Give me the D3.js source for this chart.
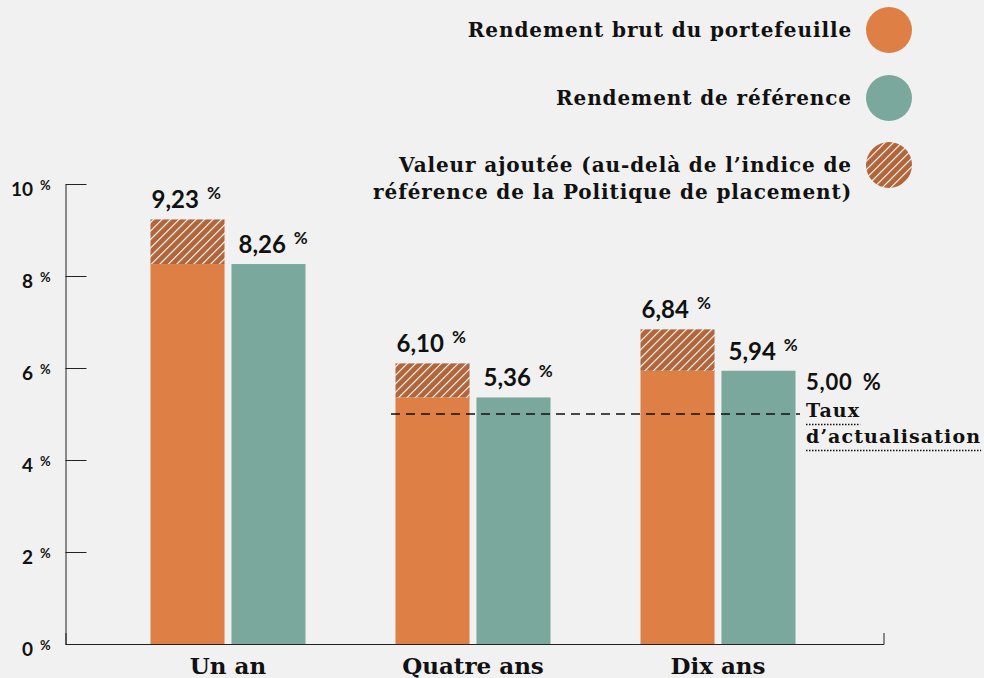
<!doctype html>
<html lang="fr">
<head>
<meta charset="utf-8">
<script src="https://d3js.org/d3.v7.min.js"></script>
<style>
  body { margin: 0; background: #f1f1f1; }
  svg { display: block; }
  .num { font-family: Lato, "Open Sans", sans-serif; font-weight: 700; fill: #111; }
  .slab { font-family: "DejaVu Serif", serif; font-weight: 700; fill: #111; }
</style>
</head>
<body>
<svg id="svg" width="984" height="678"></svg>
<script>
const categories = ["Un an", "Quatre ans", "Dix ans"];
const portfolio = [9.23, 6.10, 6.84];   // rendement brut du portefeuille
const benchmark = [8.26, 5.36, 5.94];   // rendement de référence
const discountRate = 5.00;
const yTicks = [0, 2, 4, 6, 8, 10];
const legendItems = [
  ["Rendement brut du portefeuille"],
  ["Rendement de référence"],
  ["Valeur ajoutée (au-delà de l’indice de", "référence de la Politique de placement)"]
];

const orange = "#de7f45", teal = "#7aa89c", hatch = "#b0653a";
const fmt = v => v.toFixed(2).replace(".", ",");

const svg = d3.select("#svg");

// hatch pattern
const defs = svg.append("defs");
const pat = defs.append("pattern")
  .attr("id", "hatch")
  .attr("patternUnits", "userSpaceOnUse")
  .attr("width", 6).attr("height", 6)
  .attr("patternTransform", "rotate(45)");
pat.append("rect").attr("width", 6).attr("height", 6).attr("fill", hatch);
pat.append("line").attr("x1", 0).attr("y1", 0).attr("x2", 0).attr("y2", 6)
  .attr("stroke", "#fff").attr("stroke-width", 2.2);

const y = d3.scaleLinear().domain([0, 10]).range([644, 184]);
const x0 = d3.scaleBand().domain(categories).range([105.5, 840.5]);
const x1 = d3.scaleBand().domain(["p", "b"]).range([-77.5, 77.5]).paddingInner(0.086);
const frame = d3.scaleLinear().domain([0, 1]).range([65.5, 883.5]);
const cx = c => x0(c) + x0.bandwidth() / 2;

// axes
svg.append("g")
  .attr("transform", "translate(65.5,0)")
  .call(d3.axisLeft(y).tickValues(yTicks).tickSizeInner(-21).tickSizeOuter(0).tickFormat(""))
  .call(g => g.selectAll("path, line").attr("stroke", "#222"));

svg.append("g")
  .attr("transform", `translate(0,${y(0)})`)
  .call(d3.axisBottom(frame).tickValues([]).tickSizeOuter(-11))
  .call(g => g.select("path").attr("stroke", "#222"));

const yl = svg.append("g");
yTicks.forEach(t => {
  yl.append("text").attr("class", "num")
    .attr("x", 33).attr("y", y(t) + 12).attr("text-anchor", "end")
    .attr("font-size", 19).text(t);
  yl.append("text").attr("class", "num")
    .attr("x", 40).attr("y", y(t) + 6)
    .attr("font-size", 13).attr("font-weight", 400).text("%");
});

// bars
const groups = svg.selectAll("g.grp").data(categories).join("g")
  .attr("class", "grp")
  .attr("transform", c => `translate(${cx(c)},0)`);

groups.append("rect")
  .attr("x", x1("p")).attr("width", x1.bandwidth())
  .attr("y", (c, i) => y(benchmark[i])).attr("height", (c, i) => y(0) - y(benchmark[i]))
  .attr("fill", orange);
groups.append("rect")
  .attr("x", x1("p")).attr("width", x1.bandwidth())
  .attr("y", (c, i) => y(portfolio[i])).attr("height", (c, i) => y(benchmark[i]) - y(portfolio[i]))
  .attr("fill", "url(#hatch)");
groups.append("rect")
  .attr("x", x1("b")).attr("width", x1.bandwidth())
  .attr("y", (c, i) => y(benchmark[i])).attr("height", (c, i) => y(0) - y(benchmark[i]))
  .attr("fill", teal);

function valueLabel(g, xPos, v) {
  const t = g.append("text").attr("class", "num")
    .attr("x", xPos).attr("y", y(v) - 11).attr("font-size", 24).text(fmt(v));
  const w = t.node().getComputedTextLength();
  g.append("text").attr("class", "num")
    .attr("x", xPos + w + 8).attr("y", y(v) - 20)
    .attr("font-size", 17).attr("font-weight", 400).text("%");
}
groups.each(function (c, i) {
  const g = d3.select(this);
  valueLabel(g, x1("p") + 1, portfolio[i]);
  valueLabel(g, x1("b") + 7, benchmark[i]);
});

// category labels
svg.selectAll("text.cat").data(categories).join("text")
  .attr("class", "slab cat")
  .attr("x", c => cx(c)).attr("y", 674)
  .attr("text-anchor", "middle")
  .attr("font-size", 23)
  .text(c => c);

// discount rate line
svg.append("line")
  .attr("x1", x0(categories[1]) + x0.bandwidth() / 2 - 82)
  .attr("x2", 800)
  .attr("y1", y(discountRate)).attr("y2", y(discountRate))
  .attr("stroke", "#111").attr("stroke-width", 1.6)
  .attr("stroke-dasharray", "9,6");

const rt = svg.append("text").attr("class", "num")
  .attr("x", 806).attr("y", 390).attr("font-size", 22).attr("font-weight", 600)
  .attr("letter-spacing", 0.8)
  .text(fmt(discountRate));
svg.append("text").attr("class", "num")
  .attr("x", 806 + rt.node().getComputedTextLength() + 10).attr("y", 390)
  .attr("font-size", 22).attr("font-weight", 600).text("%");

["Taux", "d’actualisation"].forEach((s, i) => {
  const t = svg.append("text").attr("class", "slab")
    .attr("x", 806).attr("y", 417 + i * 26).attr("font-size", 19)
    .attr("letter-spacing", 1.1).text(s);
  const w = t.node().getComputedTextLength();
  svg.append("line")
    .attr("x1", 806).attr("x2", 806 + w)
    .attr("y1", 424.5 + i * 26).attr("y2", 424.5 + i * 26)
    .attr("stroke", "#111").attr("stroke-width", 1.5)
    .attr("stroke-dasharray", "1.5,1.5");
});

// legend
const legY = [30, 98, 165];
const legFill = [orange, teal, "url(#hatch)"];
legendItems.forEach((lines, i) => {
  svg.append("circle").attr("cx", 889).attr("cy", legY[i]).attr("r", 23).attr("fill", legFill[i]);
  lines.forEach((s, j) => {
    svg.append("text").attr("class", "slab")
      .attr("x", 852).attr("y", (i === 2 ? 172 : legY[i] + 7) + j * 27)
      .attr("text-anchor", "end").attr("font-size", 20)
      .attr("letter-spacing", 0.9).text(s);
  });
});
</script>
</body>
</html>
